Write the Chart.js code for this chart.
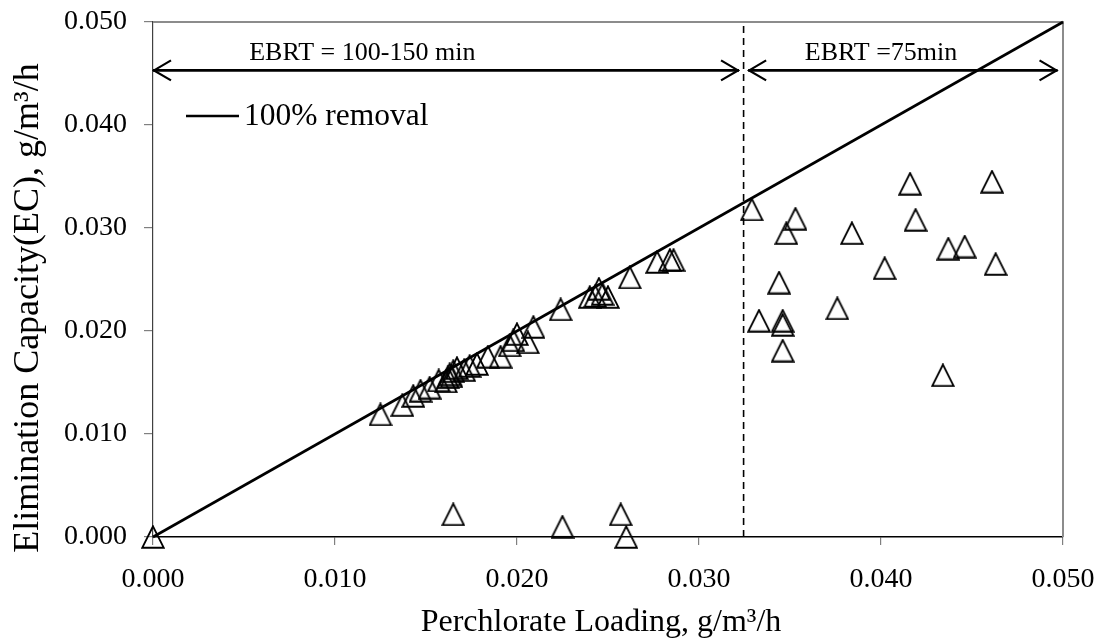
<!DOCTYPE html>
<html>
<head>
<meta charset="utf-8">
<script src="https://cdn.jsdelivr.net/npm/chart.js@4/dist/chart.umd.min.js"></script>
<style>
  html, body { margin: 0; padding: 0; background: #fff; }
  #wrap { width: 1102px; height: 640px; position: relative; }
</style>
</head>
<body>
<div id="wrap"><canvas id="chart"></canvas></div>
<script>
// Perchlorate loading (x) and elimination capacity (y), g/m3/h
const loading = [
  0.0000, 0.0125, 0.0137, 0.0143, 0.0147, 0.0152, 0.0157, 0.0161, 0.0162, 0.0163,
  0.0165, 0.0164, 0.0167, 0.0171, 0.0174, 0.0178, 0.0184, 0.0191, 0.0196, 0.0198,
  0.0200, 0.0206, 0.0209, 0.0224, 0.0240, 0.0243, 0.0245, 0.0247, 0.0250, 0.0262,
  0.0277, 0.0284, 0.0286, 0.0165, 0.0225, 0.0257, 0.0260, 0.0329, 0.0353, 0.0348,
  0.0384, 0.0416, 0.0461, 0.0419, 0.0437, 0.0446, 0.0463, 0.0402, 0.0344, 0.0376,
  0.0333, 0.0346, 0.0346, 0.0346, 0.0434
];
const capacity = [
  0.0000, 0.0119, 0.0128, 0.0137, 0.0142, 0.0145, 0.0152, 0.0151, 0.0155, 0.0158,
  0.0161, 0.0156, 0.0164, 0.0162, 0.0166, 0.0168, 0.0175, 0.0175, 0.0186, 0.0191,
  0.0197, 0.0189, 0.0204, 0.0221, 0.0233, 0.0234, 0.0241, 0.0236, 0.0233, 0.0252,
  0.0267, 0.0269, 0.0269, 0.0022, 0.0010, 0.0022, 0.0000, 0.0318, 0.0309, 0.0295,
  0.0295, 0.0343, 0.0345, 0.0308, 0.0280, 0.0282, 0.0265, 0.0261, 0.0247, 0.0222,
  0.0210, 0.0210, 0.0206, 0.0181, 0.0157
];

// 100% removal reference: EC equals loading
const removalX = [0, 0.05];
const removalY = [0, 0.05];

const xTickLabels = ['0.000', '0.010', '0.020', '0.030', '0.040', '0.050'];
const yTickLabels = ['0.000', '0.010', '0.020', '0.030', '0.040', '0.050'];

// EBRT regime boundary and the two span arrows
const ebrtBoundary = 0.03245;
const arrowLevel = 0.0453;
const spanShort = [0.0000, 0.0322];   // EBRT = 100-150 min
const spanLong = [0.0327, 0.0497];    // EBRT = 75 min
const spanLabels = ['EBRT = 100-150 min', 'EBRT =75min'];
const spanLabelX = [0.0115, 0.0400];
const spanLabelY = 0.0463;

const SERIF = '"Liberation Serif", "Times New Roman", serif';

// open triangle marker
function triangleMarker(size) {
  const c = document.createElement('canvas');
  c.width = size; c.height = size;
  const g = c.getContext('2d');
  g.strokeStyle = '#000';
  g.lineWidth = 1.9;
  g.lineJoin = 'miter';
  g.beginPath();
  g.moveTo(size / 2, 1.3);
  g.lineTo(size - 1.3, size - 1.3);
  g.lineTo(1.3, size - 1.3);
  g.closePath();
  g.stroke();
  return c;
}
const marker = triangleMarker(24);

const decorations = {
  id: 'decorations',
  beforeDatasetsDraw(chart) {
    const { ctx, chartArea: a } = chart;
    ctx.save();
    // grey frame on top and right of the plot area
    ctx.strokeStyle = '#8c8c8c';
    ctx.lineWidth = 2;
    ctx.beginPath();
    ctx.moveTo(a.left, a.top);
    ctx.lineTo(a.right, a.top);
    ctx.lineTo(a.right, a.bottom);
    ctx.stroke();
    ctx.restore();
  },
  afterDatasetsDraw(chart) {
    const { ctx, chartArea: a, scales: { x, y } } = chart;
    ctx.save();
    const yArrow = y.getPixelForValue(arrowLevel);
    const drawArrow = (x0, x1) => {
      const p0 = x.getPixelForValue(x0);
      const p1 = x.getPixelForValue(x1);
      ctx.strokeStyle = '#000';
      ctx.lineWidth = 2.6;
      ctx.lineCap = 'butt';
      ctx.beginPath();
      ctx.moveTo(p0, yArrow);
      ctx.lineTo(p1, yArrow);
      ctx.stroke();
      ctx.lineWidth = 2.2;
      ctx.beginPath();
      ctx.moveTo(p0 + 18, yArrow - 10);
      ctx.lineTo(p0 + 1, yArrow);
      ctx.lineTo(p0 + 18, yArrow + 10);
      ctx.moveTo(p1 - 18, yArrow - 10);
      ctx.lineTo(p1 - 1, yArrow);
      ctx.lineTo(p1 - 18, yArrow + 10);
      ctx.stroke();
    };
    drawArrow(spanShort[0], spanShort[1]);
    drawArrow(spanLong[0], spanLong[1]);

    // span labels
    ctx.fillStyle = '#000';
    ctx.font = '26px ' + SERIF;
    ctx.textAlign = 'center';
    ctx.textBaseline = 'alphabetic';
    const ly = y.getPixelForValue(spanLabelY);
    spanLabels.forEach((t, i) => ctx.fillText(t, x.getPixelForValue(spanLabelX[i]), ly));

    // legend
    ctx.strokeStyle = '#000';
    ctx.lineWidth = 2.4;
    ctx.beginPath();
    ctx.moveTo(a.left + 33, a.top + 94);
    ctx.lineTo(a.left + 86, a.top + 94);
    ctx.stroke();
    ctx.font = '31.5px ' + SERIF;
    ctx.textAlign = 'left';
    ctx.textBaseline = 'middle';
    ctx.fillText('100% removal', a.left + 91, a.top + 95);

    // axis titles
    ctx.font = '32px ' + SERIF;
    ctx.textAlign = 'center';
    ctx.textBaseline = 'alphabetic';
    ctx.fillText('Perchlorate Loading, g/m\u00B3/h', 601, 631);
    ctx.save();
    ctx.translate(38, 308);
    ctx.rotate(-Math.PI / 2);
    ctx.font = '36px ' + SERIF;
    ctx.fillText('Elimination Capacity(EC), g/m\u00B3/h', 0, 0);
    ctx.restore();
    ctx.restore();
  }
};

const points = loading.map((v, i) => ({ x: v, y: capacity[i] }));

new Chart(document.getElementById('chart'), {
  type: 'scatter',
  data: {
    datasets: [
      {
        label: '100% removal',
        type: 'line',
        data: removalX.map((v, i) => ({ x: v, y: removalY[i] })),
        borderColor: '#000',
        borderWidth: 2.6,
        pointRadius: 0,
        fill: false,
        clip: false,
        order: 3
      },
      {
        label: 'EBRT boundary',
        type: 'line',
        data: [{ x: ebrtBoundary, y: 0 }, { x: ebrtBoundary, y: 0.05 }],
        borderColor: '#000',
        borderWidth: 1.6,
        borderDash: [7, 5],
        pointRadius: 0,
        fill: false,
        order: 2
      },
      {
        label: 'EC',
        data: points,
        pointStyle: marker,
        pointRadius: 12,
        pointHoverRadius: 12,
        clip: false,
        order: 1
      }
    ]
  },
  options: {
    responsive: true,
    maintainAspectRatio: false,
    animation: false,
    events: [],
    layout: { padding: { top: 22, right: 39, left: 0, bottom: 0 } },
    plugins: {
      legend: { display: false },
      tooltip: { enabled: false }
    },
    scales: {
      x: {
        type: 'linear',
        min: 0,
        max: 0.05,
        afterFit(s) {
          s.height = 103;
          s.paddingLeft = 0; s.paddingRight = 0;
        },
        afterBuildTicks(s) { s.ticks = xTickLabels.map(t => ({ value: parseFloat(t) })); },
        ticks: {
          callback: (v, i) => xTickLabels[i],
          font: { family: SERIF, size: 28 },
          color: '#000',
          padding: 18,
          maxRotation: 0
        },
        grid: { drawOnChartArea: false, drawTicks: true, tickLength: 8, color: '#808080', lineWidth: 1.2 },
        border: { display: true, color: '#000', width: 1.6 }
      },
      y: {
        type: 'linear',
        min: 0,
        max: 0.05,
        afterFit(s) {
          s.width = 153;
          s.paddingTop = 0; s.paddingBottom = 0;
        },
        afterBuildTicks(s) { s.ticks = yTickLabels.map(t => ({ value: parseFloat(t) })); },
        ticks: {
          callback: (v, i) => yTickLabels[i],
          font: { family: SERIF, size: 28 },
          color: '#000',
          padding: 17
        },
        grid: { drawOnChartArea: false, drawTicks: true, tickLength: 9, color: '#808080', lineWidth: 1.2 },
        border: { display: true, color: '#404040', width: 1.2 }
      }
    }
  },
  plugins: [decorations]
});
</script>
</body>
</html>
